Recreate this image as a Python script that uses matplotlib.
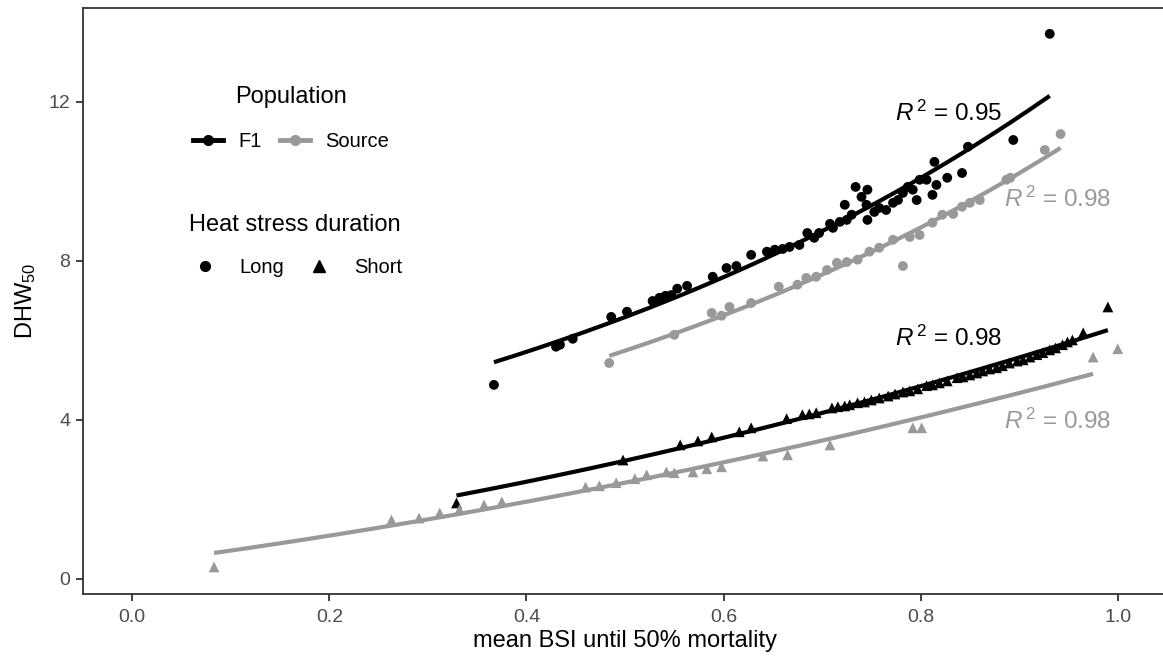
import numpy as np
import matplotlib
matplotlib.use("Agg")
import matplotlib.pyplot as plt
from matplotlib.lines import Line2D

plt.rcParams['font.family'] = ['Liberation Sans', 'DejaVu Sans']
plt.rcParams['mathtext.fontset'] = 'custom'
plt.rcParams['mathtext.rm'] = 'Liberation Sans'
plt.rcParams['mathtext.it'] = 'Liberation Sans:italic'

# ---------------- data ----------------
f1_long_x = [0.367, 0.430, 0.434, 0.447, 0.486, 0.502, 0.528, 0.535, 0.541, 0.547,
             0.553, 0.563, 0.589, 0.603, 0.613, 0.628, 0.644, 0.652, 0.660, 0.667,
             0.677, 0.685, 0.692, 0.697, 0.708, 0.711, 0.718, 0.723, 0.725, 0.730,
             0.734, 0.740, 0.746, 0.745, 0.746, 0.753, 0.758, 0.765, 0.772, 0.777,
             0.782, 0.787, 0.792, 0.796, 0.799, 0.806, 0.812, 0.814, 0.816, 0.827,
             0.842, 0.848, 0.894, 0.931]
f1_long_y = [4.88, 5.84, 5.89, 6.04, 6.59, 6.72, 6.99, 7.07, 7.12, 7.14,
             7.30, 7.37, 7.60, 7.82, 7.87, 8.15, 8.23, 8.28, 8.30, 8.35,
             8.40, 8.70, 8.58, 8.70, 8.93, 8.83, 8.98, 9.41, 9.03, 9.16,
             9.86, 9.61, 9.79, 9.41, 9.03, 9.23, 9.33, 9.28, 9.46, 9.53,
             9.71, 9.86, 9.79, 9.53, 10.04, 10.04, 9.66, 10.49, 9.91, 10.09,
             10.21, 10.87, 11.04, 13.71]

src_long_x = [0.484, 0.550, 0.588, 0.598, 0.606, 0.628, 0.656, 0.675, 0.684, 0.694,
              0.705, 0.715, 0.725, 0.736, 0.748, 0.758, 0.772, 0.782, 0.789, 0.799,
              0.812, 0.822, 0.833, 0.842, 0.850, 0.860, 0.887, 0.891, 0.926, 0.942]
src_long_y = [5.43, 6.14, 6.69, 6.62, 6.84, 6.94, 7.35, 7.40, 7.57, 7.60,
              7.77, 7.95, 7.97, 8.03, 8.23, 8.33, 8.53, 7.87, 8.60, 8.65,
              8.96, 9.16, 9.18, 9.36, 9.46, 9.53, 10.04, 10.09, 10.79, 11.19]

f1_short_x = [0.329, 0.498, 0.556, 0.574, 0.588, 0.616, 0.628, 0.664, 0.680, 0.687,
              0.694, 0.710, 0.716, 0.723, 0.728, 0.736, 0.743, 0.750, 0.758, 0.767,
              0.774, 0.782, 0.789, 0.797, 0.806, 0.812, 0.819, 0.827, 0.837, 0.843,
              0.850, 0.857, 0.863, 0.870, 0.877, 0.883, 0.890, 0.898, 0.904, 0.911,
              0.918, 0.924, 0.931, 0.937, 0.944, 0.949, 0.954, 0.965, 0.990]
f1_short_y = [1.91, 2.99, 3.37, 3.47, 3.57, 3.70, 3.80, 4.03, 4.13, 4.15,
              4.18, 4.30, 4.33, 4.35, 4.38, 4.43, 4.45, 4.50, 4.55, 4.60,
              4.65, 4.70, 4.73, 4.78, 4.86, 4.88, 4.93, 4.98, 5.06, 5.08,
              5.13, 5.18, 5.23, 5.28, 5.31, 5.36, 5.43, 5.48, 5.51, 5.58,
              5.64, 5.69, 5.76, 5.81, 5.89, 5.96, 6.01, 6.19, 6.84]

src_short_x = [0.083, 0.263, 0.291, 0.312, 0.332, 0.357, 0.375, 0.460, 0.474, 0.491,
               0.510, 0.522, 0.542, 0.550, 0.569, 0.583, 0.598, 0.640, 0.665, 0.708,
               0.792, 0.801, 0.975, 1.000]
src_short_y = [0.30, 1.48, 1.53, 1.66, 1.74, 1.86, 1.94, 2.31, 2.34, 2.42,
               2.52, 2.62, 2.69, 2.67, 2.69, 2.77, 2.82, 3.09, 3.12, 3.37,
               3.80, 3.80, 5.58, 5.79]

# upper end of each fitted curve (the last Source/Short point lies outside the fit)
fit_xmax = {'f1_long': 0.931, 'src_long': 0.942, 'f1_short': 0.990, 'src_short': 0.975}
fit_model = {'f1_long': 'loglin', 'src_long': 'loglin', 'f1_short': 'quad', 'src_short': 'quad'}
r2_labels = {'f1_long': '0.95', 'src_long': '0.98', 'f1_short': '0.98', 'src_short': '0.98'}

BLACK = '#000000'
GREY = '#999999'


def fit_curve(xs, ys, model, xx):
    if model == 'quad':
        return np.polyval(np.polyfit(xs, ys, 2), xx)
    # linear regression of log(y) on x -> y = exp(a + b x)
    return np.exp(np.polyval(np.polyfit(xs, np.log(ys), 1), xx))


fig = plt.figure(figsize=(11.63, 6.59), dpi=100)
ax = fig.add_axes([83/1163, 65/659, 1084/1163, 586/659])

groups = [
    ('f1_long', f1_long_x, f1_long_y, BLACK, 'o'),
    ('src_long', src_long_x, src_long_y, GREY, 'o'),
    ('f1_short', f1_short_x, f1_short_y, BLACK, '^'),
    ('src_short', src_short_x, src_short_y, GREY, '^'),
]

for key, xs, ys, col, mk in groups:
    xs = np.array(xs); ys = np.array(ys)
    m = xs <= fit_xmax[key] + 1e-9
    xx = np.linspace(xs[m].min(), fit_xmax[key], 200)
    ax.plot(xx, fit_curve(xs[m], ys[m], fit_model[key], xx), color=col, lw=3.0,
            solid_capstyle='butt', zorder=2)
    ax.scatter(xs, ys, s=50 if mk == 'o' else 60, marker=mk, color=col, edgecolors='none', zorder=3)

# R^2 annotations
lab = r'$R^{\,2}$ = '
ax.text(0.774, 11.72, lab + r2_labels['f1_long'], color=BLACK, fontsize=17.5, ha='left', va='center')
ax.text(0.885, 9.56, lab + r2_labels['src_long'], color=GREY, fontsize=17.5, ha='left', va='center')
ax.text(0.774, 6.06, lab + r2_labels['f1_short'], color=BLACK, fontsize=17.5, ha='left', va='center')
ax.text(0.885, 3.97, lab + r2_labels['src_short'], color=GREY, fontsize=17.5, ha='left', va='center')

ax.set_xlim(-0.05, 1.05)
ax.set_ylim(-0.38, 14.36)
ax.set_xticks([0.0, 0.2, 0.4, 0.6, 0.8, 1.0])
ax.set_xticklabels(['0.0', '0.2', '0.4', '0.6', '0.8', '1.0'])
ax.set_yticks([0, 4, 8, 12])
ax.tick_params(axis='both', colors='#333333', labelcolor='#4D4D4D', labelsize=14, length=5, width=1.3)
ax.tick_params(axis='x', pad=6)
ax.tick_params(axis='y', pad=4)
for s in ax.spines.values():
    s.set_color('#333333')
    s.set_linewidth(1.3)

ax.set_xlabel('mean BSI until 50% mortality', fontsize=17, labelpad=3)
ax.set_ylabel(r'DHW$_{50}$', fontsize=17, labelpad=8)

h1 = [Line2D([], [], color=BLACK, lw=3.5, marker='o', ms=7),
      Line2D([], [], color=GREY, lw=3.5, marker='o', ms=7)]
leg1 = ax.legend(h1, ['F1', 'Source'], title='Population', ncol=2, frameon=False,
                 loc='upper left', bbox_to_anchor=(179/1163, 1 - 72/659), bbox_transform=fig.transFigure,
                 fontsize=14.5, title_fontsize=17, handlelength=1.5, handletextpad=0.75,
                 columnspacing=0.9, borderpad=0.2)
leg1._legend_box.sep = 17
ax.add_artist(leg1)

h2 = [Line2D([], [], color=BLACK, lw=0, marker='o', ms=7),
      Line2D([], [], color=BLACK, lw=0, marker='^', ms=8)]
leg2 = ax.legend(h2, ['Long', 'Short'], title='Heat stress duration', ncol=2, frameon=False,
                 loc='upper left', bbox_to_anchor=(174/1163, 1 - 200/659), bbox_transform=fig.transFigure,
                 fontsize=14.5, title_fontsize=17, handlelength=1.65, handletextpad=0.9,
                 columnspacing=0.9, borderpad=0.2)
leg2._legend_box.sep = 16

fig.savefig('out.png', dpi=100)
